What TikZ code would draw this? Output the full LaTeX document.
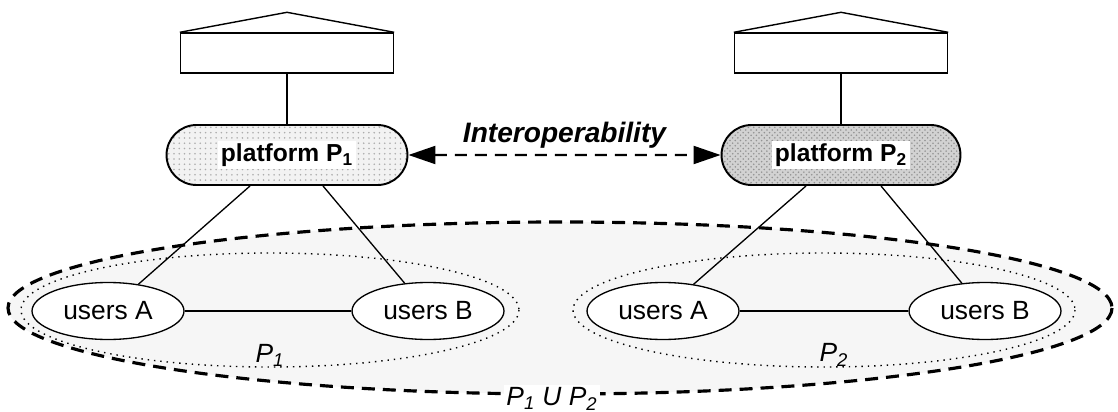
\documentclass[tikz,border=0pt]{standalone}
\usepackage{fontspec}
\setmainfont{Liberation Sans}
\usetikzlibrary{arrows.meta,positioning,shapes.geometric,shapes.misc,patterns}

\begin{document}
\begin{tikzpicture}[x=0.02cm, y=-0.02cm, line width=0.75pt,
  >={Triangle[length=0.54cm,width=0.36cm]},
  house/.style={draw, line width=0.8pt, minimum width=4.26cm, minimum height=0.8cm, inner sep=0pt},
  platform/.style={draw, line width=1.1pt, rounded rectangle, minimum width=4.82cm, minimum height=1.2cm,
    inner sep=0pt, font=\fontsize{14}{16}\selectfont\bfseries},
  users/.style={draw, ellipse, fill=white, minimum width=3.04cm, minimum height=1.14cm,
    font=\fontsize{15}{18}\selectfont},
  setlabel/.style={font=\fontsize{15}{18}\selectfont\itshape},
  subset/.style={line width=0.8pt, dash pattern=on 0.8pt off 2.8pt}]
  \useasboundingbox (0,0) rectangle (1118,412);
  \setlength{\fboxsep}{1.5pt}

  % union of the two sets
  \fill[gray!7] (560,308) ellipse [x radius=552, y radius=86];
  \draw[line width=1.8pt, dash pattern=on 0.26cm off 0.16cm] (560,308) ellipse [x radius=552, y radius=86];
  \draw[subset] (270,310) ellipse [x radius=249, y radius=57];
  \draw[subset] (824,310) ellipse [x radius=251, y radius=57];
  \node[setlabel] (s1) at (270,355) {P\textsubscript{1}};
  \node[setlabel] (s2) at (834,355) {P\textsubscript{2}};
  \node[setlabel, fill=white, inner sep=1.5pt] (s12) at (552,399) {P\textsubscript{1} U P\textsubscript{2}};

  % users
  \node[users] (ua1) at (108,311) {users A};
  \node[users] (ub1) at (428,311) {users B};
  \node[users] (ua2) at (663,311) {users A};
  \node[users] (ub2) at (985,311) {users B};
  \draw (ua1) -- (ub1);
  \draw (ua2) -- (ub2);

  % platforms
  \node[platform, preaction={fill=gray!10}, pattern=dots, pattern color=gray!65] (p1) at (287,155)
    {\colorbox{white}{platform P\textsubscript{1}}};
  \node[platform, minimum width=4.78cm, preaction={fill=gray!35}, pattern=crosshatch dots, pattern color=gray!85] (p2) at (841,155)
    {\colorbox{white}{platform P\textsubscript{2}}};

  % houses on top
  \node[house] (h1) at (287,53) {};
  \draw[line width=0.8pt] (h1.north west) -- ([yshift=0.4cm]h1.north) -- (h1.north east);
  \node[house] (h2) at (841,53) {};
  \draw[line width=0.8pt] (h2.north west) -- ([yshift=0.4cm]h2.north) -- (h2.north east);
  \draw (h1.south) -- (p1.north);
  \draw (h2.south) -- (p2.north);

  % platform to users
  \draw ([xshift=-0.74cm]p1.south) -- (ua1);
  \draw ([xshift=0.72cm]p1.south) -- (ub1);
  \draw ([xshift=-0.7cm]p2.south) -- (ua2);
  \draw ([xshift=0.8cm]p2.south) -- (ub2);

  % interoperability
  \draw[<->, line width=1.2pt, dash pattern=on 0.24cm off 0.16cm] (p1) -- node[above, font=\fontsize{16}{19}\selectfont\bfseries\itshape] (iop) {Interoperability} (p2);
\end{tikzpicture}
\end{document}
